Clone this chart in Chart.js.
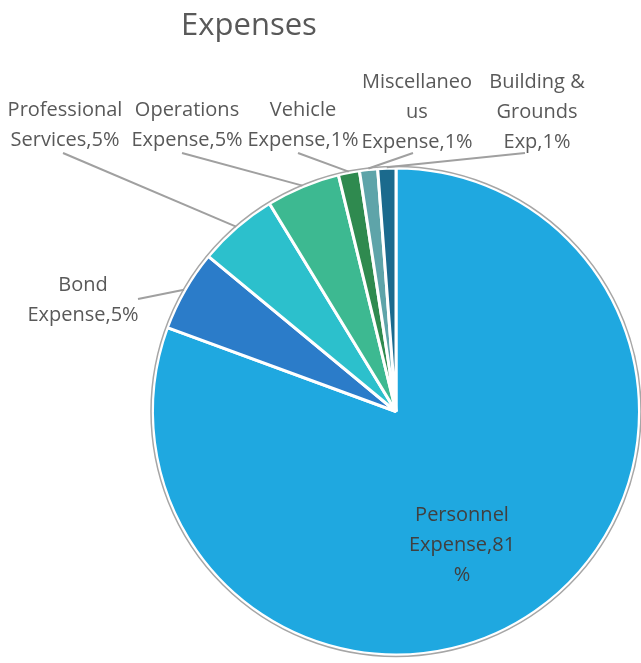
<!DOCTYPE html>
<html>
<head>
<meta charset="utf-8">
<script src="https://cdn.jsdelivr.net/npm/chart.js"></script>
<style>
	body { margin: 0; background: #ffffff; }
	#container { width: 641px; height: 663px; position: relative; }
</style>
</head>
<body>
<div id="container">
	<canvas id="expenseChart" width="641" height="663"></canvas>
</div>
<script>
	// Expense breakdown, in percent of total
	var categories = ['Personnel Expense', 'Bond Expense', 'Professional Services', 'Operations Expense',
		'Vehicle Expense', 'Miscellaneous Expense', 'Building & Grounds Exp'];
	var values = [80.6, 5.4, 5.3, 4.9, 1.4, 1.2, 1.2];
	var sliceColors = ['#1fa8e0', '#2b7cc9', '#2cc0cc', '#3db991', '#2f8a4f', '#5ea4a9', '#1b6a8d'];

	// wrapped label lines, {p} is replaced by the rounded percent
	var labelLines = [
		['Personnel', 'Expense,{p}', '%'],
		['Bond', 'Expense,{p}%'],
		['Professional', 'Services,{p}%'],
		['Operations', 'Expense,{p}%'],
		['Vehicle', 'Expense,{p}%'],
		['Miscellaneo', 'us', 'Expense,{p}%'],
		['Building &', 'Grounds', 'Exp,{p}%']
	];
	// where each label sits (centre x, first line y) and where its leader line starts
	var labelAt = [[462, 515], [83, 285], [65, 110], [187, 110], [303, 110], [417, 82], [537, 82]];
	var leaderFrom = [null, [138, 299], [63, 153], [182, 153], [298, 153], [413, 153], [525, 153]];

	var total = values.reduce((a, b) => a + b, 0);

	var labelPlugin = {
		id: 'pieLabels',
		afterDatasetsDraw(chart) {
			var ctx = chart.ctx;
			var arcs = chart.getDatasetMeta(0).data;

			// thin grey rim round the pie
			var a0 = arcs[0];
			ctx.save();
			ctx.beginPath();
			ctx.arc(a0.x, a0.y, a0.outerRadius + 1.5, 0, Math.PI * 2);
			ctx.strokeStyle = '#a6a6a6';
			ctx.lineWidth = 1.5;
			ctx.stroke();

			// leader lines
			ctx.strokeStyle = '#a0a0a0';
			ctx.lineWidth = 2;
			arcs.forEach(function (arc, i) {
				if (!leaderFrom[i]) return;
				var mid = (arc.startAngle + arc.endAngle) / 2;
				var ex = arc.x + Math.cos(mid) * (arc.outerRadius + 1);
				var ey = arc.y + Math.sin(mid) * (arc.outerRadius + 1);
				ctx.beginPath();
				ctx.moveTo(leaderFrom[i][0], leaderFrom[i][1]);
				ctx.lineTo(ex, ey);
				ctx.stroke();
			});

			// label text
			ctx.font = '20px "Open Sans"';
			ctx.textAlign = 'center';
			ctx.textBaseline = 'middle';
			values.forEach(function (v, i) {
				var pct = Math.round(v / total * 100);
				ctx.fillStyle = i === 0 ? '#404040' : '#595959';
				labelLines[i].forEach(function (line, j) {
					ctx.fillText(line.replace('{p}', pct), labelAt[i][0], labelAt[i][1] + j * 30);
				});
			});

			// title
			ctx.font = '31px "Open Sans"';
			ctx.fillStyle = '#595959';
			ctx.textBaseline = 'alphabetic';
			ctx.fillText('Expenses', 249, 35);
			ctx.restore();
		}
	};

	var ctx = document.getElementById('expenseChart').getContext('2d');
	var chart = new Chart(ctx, {
		type: 'pie',
		data: {
			labels: categories,
			datasets: [{
				data: values,
				backgroundColor: sliceColors,
				borderColor: '#ffffff',
				borderWidth: 3,
				hoverOffset: 0
			}]
		},
		options: {
			responsive: false,
			animation: false,
			layout: {
				padding: { left: 151, top: 165, right: 0, bottom: 5 }
			},
			plugins: {
				legend: { display: false },
				tooltip: { enabled: false }
			}
		},
		plugins: [labelPlugin]
	});
</script>
</body>
</html>
